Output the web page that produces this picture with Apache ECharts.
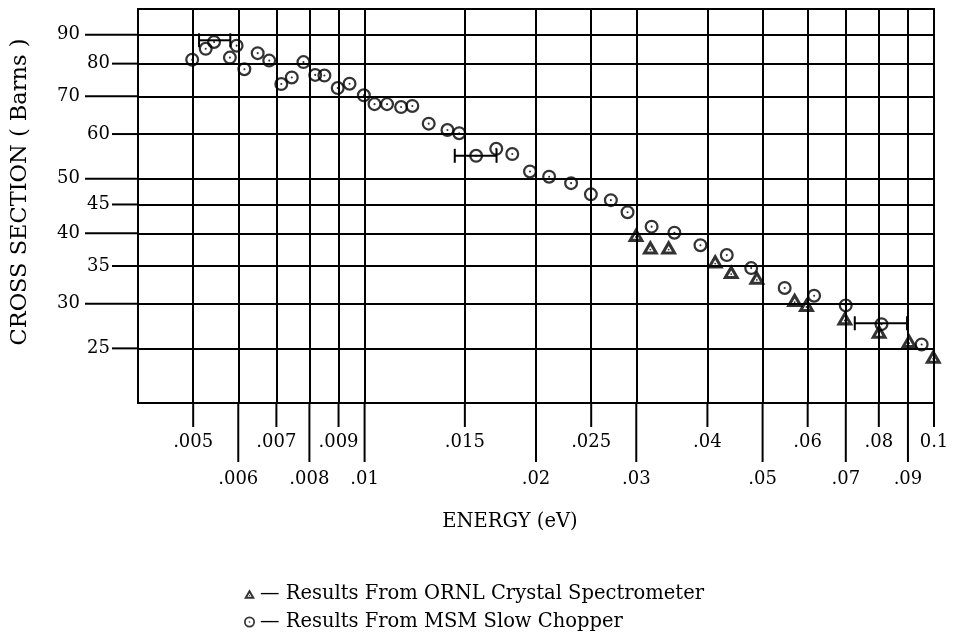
<!DOCTYPE html>
<html>
<head>
<meta charset="utf-8">
<title>Cross section vs energy</title>
<script src="https://cdn.jsdelivr.net/npm/echarts@6/dist/echarts.min.js"></script>
<style>
  html, body { margin: 0; padding: 0; background: #fff; }
  #chart { width: 957px; height: 638px; }
</style>
</head>
<body>
<div id="chart"></div>
<script>
// tick values: x labels sit on two rows, y labels on two columns
var xTicksUpper = [0.005, 0.007, 0.009, 0.015, 0.025, 0.04, 0.06, 0.08, 0.1];
var xTicksLower = [0.006, 0.008, 0.01, 0.02, 0.03, 0.05, 0.07, 0.09];
var yTicksOuter = [90, 70, 50, 40, 30];
var yTicksInner = [80, 60, 45, 35, 25];

// MSM slow chopper (circles)
var msmEnergy = [0.00498, 0.00526, 0.00544, 0.00580, 0.00596, 0.00615, 0.00649, 0.00680,
  0.00714, 0.00745, 0.00781, 0.00819, 0.00850, 0.00897, 0.00941, 0.00997, 0.01041,
  0.01095, 0.01159, 0.01213, 0.01296, 0.01398, 0.01466, 0.0157, 0.01703, 0.01817,
  0.01952, 0.02109, 0.02305, 0.02497, 0.02707, 0.02896, 0.03192, 0.0350, 0.03889,
  0.04326, 0.04775, 0.05467, 0.06158, 0.06998, 0.08087, 0.09513];
var msmSigma = [81.3, 85.0, 87.4, 82.0, 86.1, 78.2, 83.5, 81.0,
  73.6, 75.6, 80.5, 76.4, 76.2, 72.4, 73.7, 70.3, 67.8,
  67.8, 67.0, 67.3, 62.6, 61.0, 60.2, 54.9, 56.5, 55.3,
  51.5, 50.4, 49.1, 46.9, 45.8, 43.6, 41.1, 40.1, 38.1,
  36.6, 34.7, 32.0, 31.0, 29.8, 27.6, 25.4];

// ORNL crystal spectrometer (triangles)
var ornlEnergy = [0.02997, 0.03176, 0.0342, 0.04128, 0.04404, 0.04885, 0.05692, 0.05971,
  0.06972, 0.08009, 0.09046, 0.0997];
var ornlSigma = [39.8, 37.8, 37.8, 35.7, 34.2, 33.4, 30.5, 29.9, 28.3, 26.8, 25.8, 24.2];

// horizontal error bars
var errLow = [0.00512, 0.0144, 0.07259];
var errHigh = [0.00581, 0.01705, 0.08967];
var errSigma = [88.0, 54.9, 27.7];

var ink = "#000";
var font = "DejaVu Serif";
var xMin = 0.004, xMax = 0.1, yMin = 20, yMax = 100;

// open circle with a centre dot / open triangle with a centre dot
var circleSym = "path://M0,-10A10,10 0 1,1 0,10A10,10 0 1,1 0,-10Z" +
  "M0,-6.8A6.8,6.8 0 1,0 0,6.8A6.8,6.8 0 1,0 0,-6.8Z" +
  "M0,-1.5A1.5,1.5 0 1,1 0,1.5A1.5,1.5 0 1,1 0,-1.5Z";
var triSym = "path://M0,-11.55L10,5.77L-10,5.77Z" +
  "M0,-4.4L-3.8,2.2L3.8,2.2Z" +
  "M0,-1.1A1.1,1.1 0 1,1 0,1.1A1.1,1.1 0 1,1 0,-1.1Z";

function pairs(xs, ys) {
  return xs.map(function (x, i) { return [x, ys[i]]; });
}

function fmtX(v) {
  var s = String(+(+v).toPrecision(3));
  return s === "0.1" ? "0.1" : s.replace(/^0\./, ".");
}

var chartDom = document.getElementById("chart");
var myChart = echarts.init(chartDom);

var lineStyle = { color: ink, width: 2 };

function xAxisOf(ticks, labelMargin, extra) {
  return Object.assign({
    type: "log",
    logBase: 10,
    position: "bottom",
    min: xMin,
    max: xMax,
    axisLine: { show: true, lineStyle: lineStyle },
    axisTick: { show: false, customValues: ticks },
    axisLabel: {
      customValues: ticks,
      margin: labelMargin,
      formatter: fmtX,
      color: ink,
      fontFamily: font,
      fontSize: 18,
    },
    splitLine: { show: true, lineStyle: lineStyle },
    minorTick: { show: false },
    minorSplitLine: { show: false },
  }, extra || {});
}

function yAxisOf(ticks, labelMargin, extra) {
  return Object.assign({
    type: "log",
    logBase: 10,
    position: "left",
    min: yMin,
    max: yMax,
    axisLine: { show: true, lineStyle: lineStyle },
    axisTick: { show: false, customValues: ticks },
    axisLabel: {
      customValues: ticks,
      margin: labelMargin,
      color: ink,
      fontFamily: font,
      fontSize: 18,
    },
    splitLine: { show: true, lineStyle: lineStyle },
    minorTick: { show: false },
    minorSplitLine: { show: false },
  }, extra || {});
}

// outward tick marks of two lengths, placed with the axes' own scale
function tickSeries(values, dim, len) {
  return {
    type: "custom",
    silent: true,
    clip: false,
    encode: { x: 0, y: 1 },
    data: values.map(function (v) { return dim === "x" ? [v, yMin] : [xMin, v]; }),
    renderItem: function (params, api) {
      var p = api.coord([api.value(0), api.value(1)]);
      var shape = dim === "x"
        ? { x1: p[0], y1: p[1], x2: p[0], y2: p[1] + len }
        : { x1: p[0] - len, y1: p[1], x2: p[0], y2: p[1] };
      return { type: "line", shape: shape, style: { stroke: ink, lineWidth: 2 } };
    },
  };
}

var option = {
  backgroundColor: "#fff",
  animation: false,
  grid: {
    left: 138,
    right: 23,
    top: 9,
    bottom: 235,
    show: true,
    borderColor: ink,
    borderWidth: 2,
    backgroundColor: "transparent",
  },
  xAxis: [
    xAxisOf(xTicksLower, 67, {
      name: "ENERGY (eV)",
      nameLocation: "middle",
      nameGap: 109,
      nameTextStyle: { color: ink, fontFamily: font, fontSize: 19.5, padding: [0, 52, 0, 0] },
    }),
    xAxisOf(xTicksUpper, 30),
  ],
  yAxis: [
    yAxisOf(yTicksOuter, 58, {
      name: "CROSS SECTION ( Barns )",
      nameLocation: "middle",
      nameRotate: 90,
      nameGap: 106,
      nameTextStyle: { color: ink, fontFamily: font, fontSize: 22.5, padding: [0, 0, 0, 28] },
    }),
    yAxisOf(yTicksInner, 28),
  ],
  legend: {
    data: ["Results From ORNL Crystal Spectrometer", "Results From MSM Slow Chopper"],
    orient: "vertical",
    left: 244,
    top: 584,
    padding: 0,
    itemWidth: 11,
    itemHeight: 11,
    itemGap: 8,
    formatter: function (name) { return "\u2014 " + name; },
    textStyle: { color: ink, fontFamily: font, fontSize: 19.5, lineHeight: 20 },
  },
  series: [
    {
      name: "Results From MSM Slow Chopper",
      type: "scatter",
      symbol: circleSym,
      symbolSize: 14,
      symbolKeepAspect: true,
      itemStyle: { color: ink },
      data: pairs(msmEnergy, msmSigma),
    },
    {
      name: "Results From ORNL Crystal Spectrometer",
      type: "scatter",
      symbol: triSym,
      symbolSize: 17,
      symbolKeepAspect: true,
      itemStyle: { color: ink },
      data: pairs(ornlEnergy, ornlSigma),
    },
    {
      name: "error",
      type: "custom",
      encode: { x: [0, 1], y: 2 },
      data: errLow.map(function (lo, i) { return [lo, errHigh[i], errSigma[i]]; }),
      renderItem: function (params, api) {
        var y = api.value(2);
        var a = api.coord([api.value(0), y]);
        var b = api.coord([api.value(1), y]);
        var h = 7;
        var st = { stroke: ink, lineWidth: 2 };
        return {
          type: "group",
          children: [
            { type: "line", shape: { x1: a[0], y1: a[1], x2: b[0], y2: b[1] }, style: st },
            { type: "line", shape: { x1: a[0], y1: a[1] - h, x2: a[0], y2: a[1] + h }, style: st },
            { type: "line", shape: { x1: b[0], y1: b[1] - h, x2: b[0], y2: b[1] + h }, style: st },
          ],
        };
      },
    },
    tickSeries(xTicksUpper, "x", 24),
    tickSeries(xTicksLower, "x", 59),
    tickSeries(yTicksOuter, "y", 53),
    tickSeries(yTicksInner, "y", 26),
  ],
};

myChart.setOption(option);

window.addEventListener("resize", () => {
  myChart.resize();
});
</script>
</body>
</html>
